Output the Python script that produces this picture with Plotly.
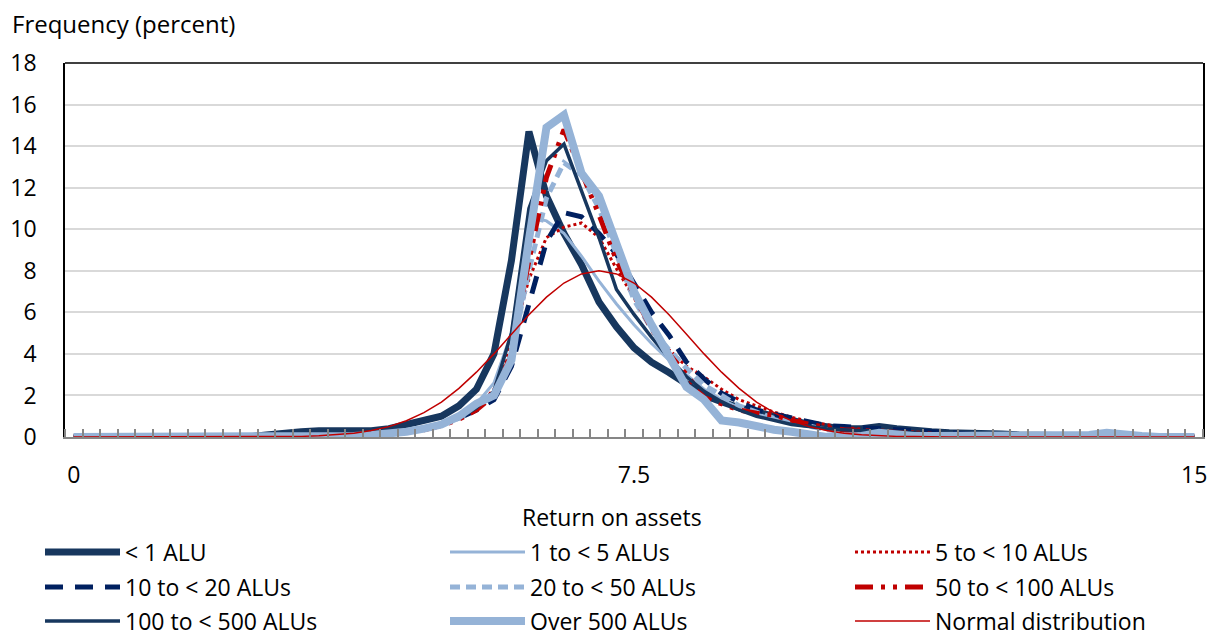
import numpy as np
import plotly.graph_objects as go

# Return-on-assets bins (65 categories spanning 0 to 15)
roa_bins = np.linspace(0, 15, 65)

# Frequency (percent) by asset-size group
lt1_alu = [0, 0, 0, 0, 0, 0, 0, 0, 0, 0, 0, 0.1, 0.2, 0.25, 0.3, 0.3, 0.3, 0.3, 0.4, 0.6,
           0.8, 1.0, 1.5, 2.3, 4.0, 8.5, 14.7, 11.6, 9.8, 8.3, 6.5, 5.3, 4.3, 3.6, 3.1, 2.5, 2.0, 1.7, 1.4, 1.2,
           1.0, 0.8, 0.6, 0.5, 0.4, 0.4, 0.5, 0.4, 0.3, 0.25, 0.2, 0.2, 0.15, 0.15, 0.1, 0.1, 0.1, 0.05, 0.05, 0,
           0, 0, 0, 0, 0]
alu_1_5 = [0, 0, 0, 0, 0, 0, 0, 0, 0, 0, 0, 0, 0, 0, 0, 0.05, 0.1, 0.15, 0.2, 0.3,
           0.45, 0.7, 1.0, 1.6, 2.6, 5.0, 10.6, 10.4, 9.8, 8.7, 7.5, 6.4, 5.4, 4.5, 3.7, 3.0, 2.3, 1.8, 1.4, 1.1,
           0.9, 0.7, 0.5, 0.4, 0.3, 0.25, 0.2, 0.2, 0.15, 0.1, 0.1, 0.05, 0.05, 0.05, 0.05, 0, 0, 0, 0, 0,
           0, 0, 0, 0, 0]
alu_5_10 = [0, 0, 0, 0, 0, 0, 0, 0, 0, 0, 0, 0, 0, 0, 0, 0, 0.05, 0.1, 0.2, 0.3,
            0.4, 0.6, 0.9, 1.4, 2.3, 4.5, 7.6, 9.6, 10.1, 10.3, 9.6, 8.1, 6.7, 5.3, 4.2, 3.4, 2.9, 2.3, 1.8, 1.5,
            1.2, 0.95, 0.75, 0.6, 0.45, 0.38, 0.33, 0.28, 0.25, 0.2, 0.15, 0.12, 0.1, 0.08, 0.05, 0.05, 0.05, 0, 0, 0,
            0, 0, 0, 0, 0]
alu_10_20 = [0, 0, 0, 0, 0, 0, 0, 0, 0, 0, 0, 0, 0, 0, 0, 0, 0.05, 0.1, 0.2, 0.3,
             0.4, 0.6, 0.9, 1.3, 1.8, 3.4, 6.5, 9.4, 10.8, 10.6, 9.8, 8.8, 7.4, 6.0, 4.9, 3.6, 2.8, 2.1, 1.7, 1.3,
             1.1, 0.9, 0.7, 0.55, 0.5, 0.45, 0.4, 0.3, 0.25, 0.2, 0.15, 0.1, 0.1, 0.05, 0.05, 0, 0, 0, 0, 0,
             0, 0, 0, 0, 0]
alu_20_50 = [0, 0, 0, 0, 0, 0, 0, 0, 0, 0, 0, 0, 0, 0, 0, 0, 0.05, 0.1, 0.15, 0.25,
             0.4, 0.6, 0.9, 1.4, 2.2, 4.0, 8.0, 11.5, 13.2, 12.6, 11.0, 8.8, 6.6, 5.2, 4.2, 3.3, 2.5, 2.0, 1.5, 1.2,
             0.9, 0.7, 0.5, 0.35, 0.25, 0.2, 0.15, 0.1, 0.1, 0.05, 0.05, 0.05, 0, 0, 0, 0, 0, 0, 0, 0,
             0, 0, 0, 0, 0]
alu_50_100 = [0, 0, 0, 0, 0, 0, 0, 0, 0, 0, 0, 0, 0, 0, 0, 0, 0.05, 0.1, 0.15, 0.25,
              0.35, 0.55, 0.85, 1.3, 2.0, 4.0, 8.5, 12.5, 14.8, 12.8, 10.7, 8.5, 6.8, 5.2, 4.0, 3.0, 1.9, 1.6, 1.3, 1.15,
              1.05, 0.8, 0.6, 0.45, 0.35, 0.3, 0.25, 0.2, 0.15, 0.1, 0.1, 0.05, 0.05, 0, 0, 0, 0, 0, 0, 0,
              0, 0, 0, 0, 0]
alu_100_500 = [0, 0, 0, 0, 0, 0, 0, 0, 0, 0, 0, 0.05, 0.1, 0.15, 0.2, 0.2, 0.2, 0.2, 0.25, 0.3,
               0.4, 0.6, 0.9, 1.4, 2.2, 5.0, 11.0, 13.3, 14.1, 11.9, 9.6, 7.1, 5.9, 4.8, 3.8, 2.9, 2.2, 1.7, 1.3, 1.0,
               0.8, 0.6, 0.5, 0.4, 0.35, 0.3, 0.3, 0.25, 0.2, 0.15, 0.1, 0.1, 0.05, 0.05, 0.05, 0, 0, 0, 0, 0,
               0, 0, 0, 0, 0]
over_500 = [0, 0, 0, 0, 0, 0, 0, 0, 0, 0, 0, 0, 0, 0, 0, 0, 0.05, 0.1, 0.15, 0.25,
            0.4, 0.6, 1.0, 1.6, 2.0, 3.7, 9.5, 14.9, 15.5, 12.7, 11.6, 9.3, 7.0, 5.4, 3.9, 2.4, 1.8, 0.8, 0.7, 0.5,
            0.35, 0.25, 0.1, 0, 0, 0.05, 0.2, 0.1, 0.05, 0.05, 0.05, 0.05, 0.05, 0.05, 0.05, 0.05, 0.05, 0.05, 0.1, 0.2,
            0.1, 0.05, 0, 0, 0]
normal_dist = [0, 0, 0, 0, 0, 0, 0, 0, 0, 0, 0, 0, 0.02, 0.03, 0.06, 0.11, 0.18, 0.31, 0.5, 0.78,
               1.17, 1.68, 2.34, 3.12, 4.0, 4.95, 5.88, 6.73, 7.41, 7.85, 8.0, 7.85, 7.41, 6.73, 5.88, 4.95, 4.0, 3.12, 2.34, 1.68,
               1.17, 0.78, 0.5, 0.31, 0.18, 0.11, 0.06, 0.03, 0.02, 0, 0, 0, 0, 0, 0, 0, 0, 0, 0, 0,
               0, 0, 0, 0, 0]

x_tick_vals = [0, 7.5, 15]
x_tick_text = ["0", "7.5", "15"]

NAVY = "#17375E"
DARK_NAVY = "#002060"
LIGHT = "#95B3D7"
RED = "#C00000"

series = [
    ("< 1 ALU", lt1_alu, dict(color=NAVY, width=7)),
    ("1 to < 5 ALUs", alu_1_5, dict(color=LIGHT, width=3)),
    ("5 to < 10 ALUs", alu_5_10, dict(color=RED, width=3, dash="dot")),
    ("10 to < 20 ALUs", alu_10_20, dict(color=DARK_NAVY, width=5, dash="18px,12px")),
    ("20 to < 50 ALUs", alu_20_50, dict(color=LIGHT, width=5, dash="10px,6px")),
    ("50 to < 100 ALUs", alu_50_100, dict(color=RED, width=5, dash="18px,8px,4px,8px,4px,8px")),
    ("100 to < 500 ALUs", alu_100_500, dict(color=NAVY, width=3.5)),
    ("Over 500 ALUs", over_500, dict(color=LIGHT, width=8)),
    ("Normal distribution", normal_dist, dict(color=RED, width=1.5)),
]

FONT = "Open Sans"
FS = 23
half = 15 / 128
PLOT_L, PLOT_W, PLOT_B, PLOT_H = 65, 1138, 437, 374

# Legend grid: three columns by three rows, one legend box per entry
LEG_COL_X = [40, 445, 850]
LEG_ROW_Y = [552, 587, 621]

fig = go.Figure()
legend_layouts = {}
for k, (name, vals, line) in enumerate(series):
    leg_id = "legend" if k == 0 else f"legend{k + 1}"
    fig.add_trace(go.Scatter(x=roa_bins, y=vals, mode="lines", name=name, line=line, legend=leg_id))
    row, col = divmod(k, 3)
    legend_layouts[leg_id] = dict(
        x=(LEG_COL_X[col] - PLOT_L) / PLOT_W, y=(PLOT_B - LEG_ROW_Y[row]) / PLOT_H,
        xanchor="left", yanchor="middle", itemwidth=75,
        font=dict(family=FONT, size=FS), bgcolor="rgba(0,0,0,0)",
    )

fig.update_layout(
    width=1210, height=639,
    margin=dict(l=65, r=7, t=63, b=202, autoexpand=False),
    paper_bgcolor="white", plot_bgcolor="white",
    font=dict(family=FONT, size=FS, color="#000000"),
    showlegend=True,
    xaxis=dict(
        range=[-half, 15 + half], tickmode="array", tickvals=x_tick_vals, ticktext=x_tick_text,
        ticks="", showgrid=False, zeroline=False,
        showline=True, linecolor="#868686", linewidth=2,
        ticklabelstandoff=16, tickfont=dict(size=FS),
        minor=dict(tickmode="linear", tick0=half, dtick=15 / 64, ticks="inside",
                   ticklen=8, tickcolor="#868686", tickwidth=1.5, showgrid=False),
    ),
    yaxis=dict(
        range=[0, 18], dtick=2, showgrid=True, gridcolor="#D9D9D9", gridwidth=1.5,
        zeroline=False, showline=True, linecolor="#000000", linewidth=1.5, mirror=True,
        ticks="", ticklabelstandoff=22, tickfont=dict(size=FS),
    ),
    shapes=[dict(type="line", xref="paper", yref="paper", x0=0, x1=1, y0=1, y1=1,
                 line=dict(color="#000000", width=1.5))],
    annotations=[
        dict(text="Frequency (percent)", xref="paper", yref="paper", x=(10 - PLOT_L) / PLOT_W,
             y=(PLOT_B - 23) / PLOT_H, xanchor="left", yanchor="middle", showarrow=False,
             font=dict(size=FS + 1)),
        dict(text="Return on assets", xref="paper", yref="paper", x=(612 - PLOT_L) / PLOT_W,
             y=(PLOT_B - 517) / PLOT_H, xanchor="center", yanchor="middle", showarrow=False,
             font=dict(size=FS)),
    ],
    **legend_layouts,
)

fig.write_html("out.html")
